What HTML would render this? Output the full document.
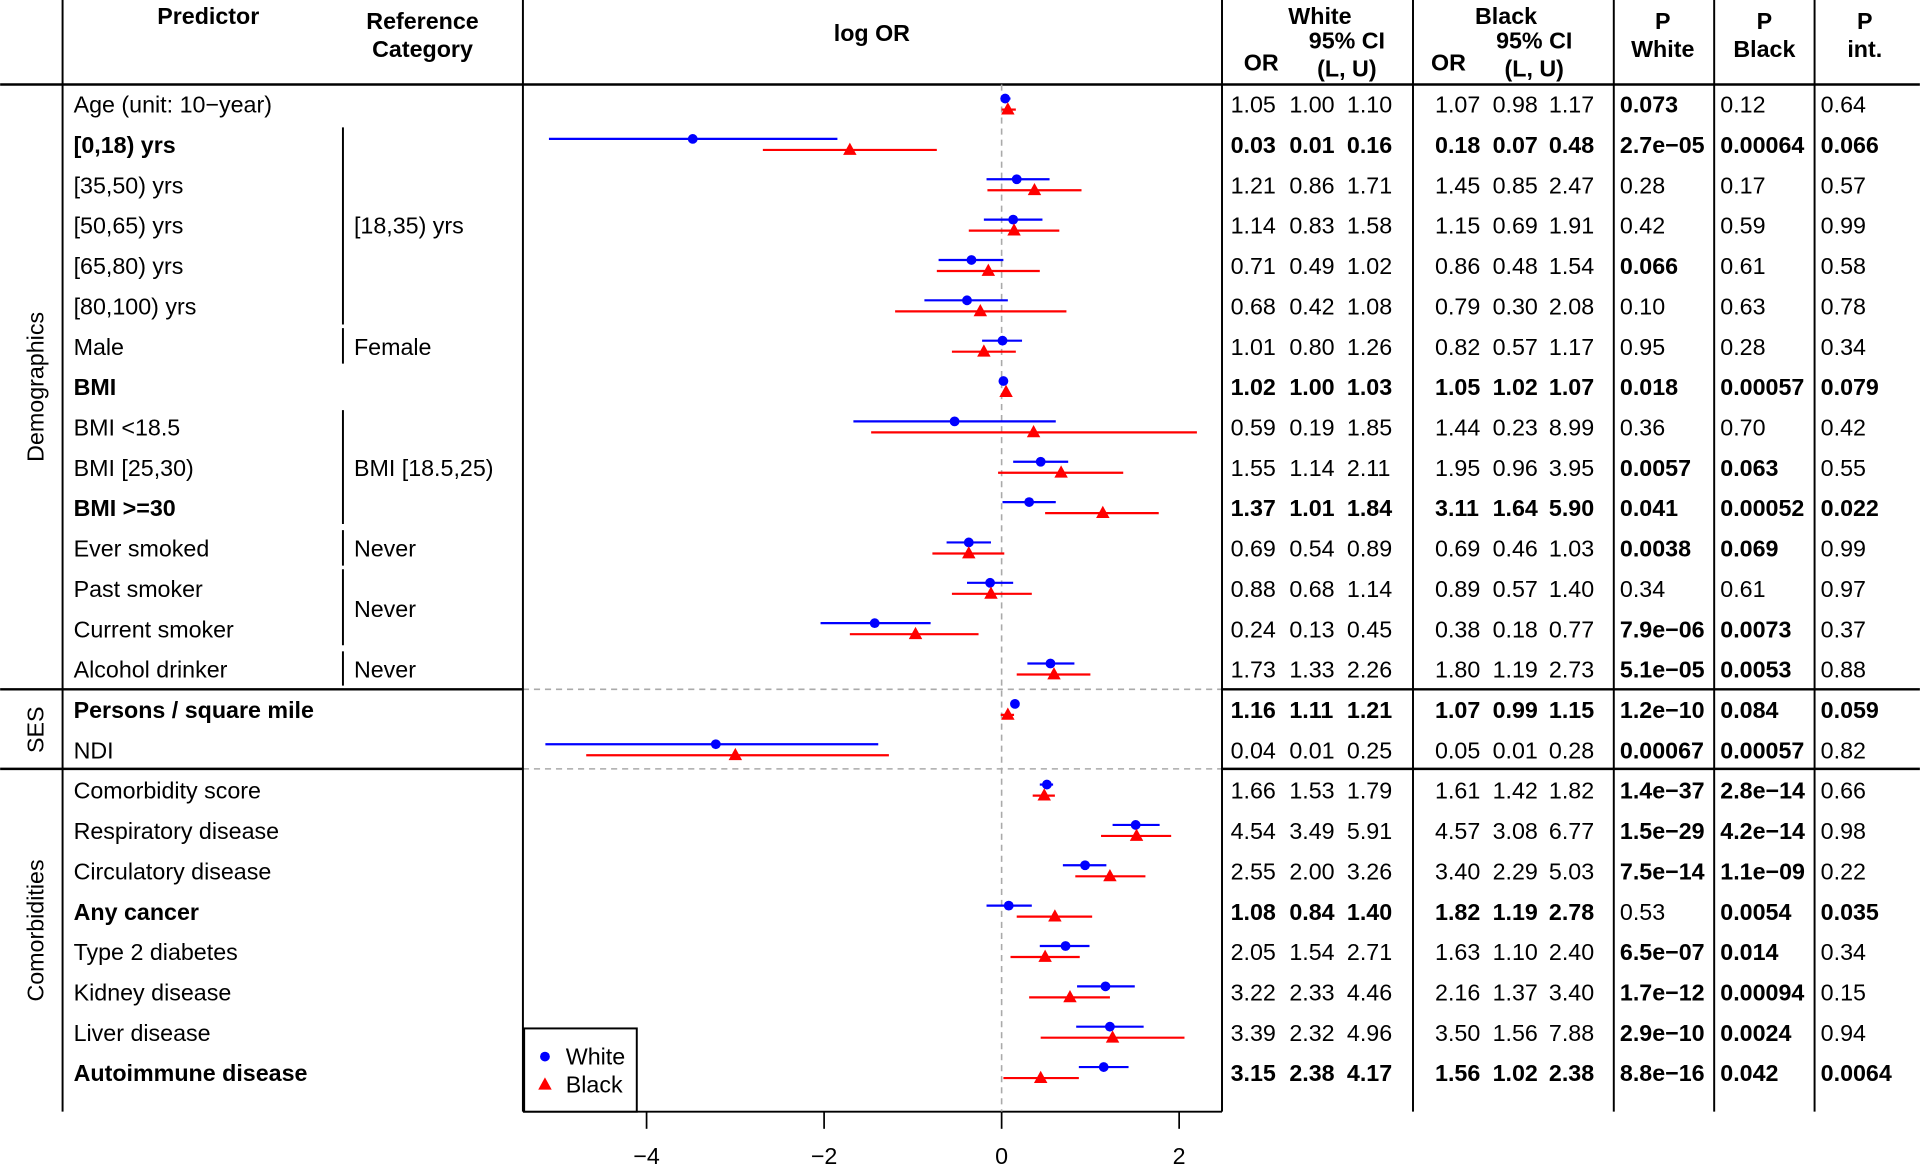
<!DOCTYPE html>
<html><head><meta charset="utf-8"><style>
html,body{margin:0;padding:0;background:#fff;}
svg{display:block;font-family:"Liberation Sans",Arial,sans-serif;}
</style></head><body>
<svg id="chart" width="1920" height="1168" viewBox="0 0 1568 954" xmlns="http://www.w3.org/2000/svg"></svg>
<script>
const labels=["Age (unit: 10\u2212year)","[0,18) yrs","[35,50) yrs","[50,65) yrs","[65,80) yrs","[80,100) yrs","Male","BMI","BMI <18.5","BMI [25,30)","BMI >=30","Ever smoked","Past smoker","Current smoker","Alcohol drinker","Persons / square mile","NDI","Comorbidity score","Respiratory disease","Circulatory disease","Any cancer","Type 2 diabetes","Kidney disease","Liver disease","Autoimmune disease"];
const boldRows=[1,7,10,15,20,24];
const whiteEst=[0.04,-3.48,0.17,0.13,-0.34,-0.39,0.01,0.02,-0.53,0.44,0.31,-0.37,-0.13,-1.43,0.55,0.15,-3.22,0.51,1.51,0.94,0.08,0.72,1.17,1.22,1.15];
const whiteLo=[0.0,-5.1,-0.17,-0.2,-0.71,-0.87,-0.22,0.0,-1.67,0.13,0.01,-0.62,-0.39,-2.04,0.29,0.10,-5.14,0.43,1.25,0.69,-0.17,0.43,0.85,0.84,0.87];
const whiteHi=[0.1,-1.85,0.54,0.46,0.02,0.07,0.23,0.03,0.61,0.75,0.61,-0.12,0.13,-0.8,0.82,0.19,-1.39,0.58,1.78,1.18,0.34,0.99,1.5,1.6,1.43];
const blackEst=[0.07,-1.71,0.37,0.14,-0.15,-0.24,-0.2,0.05,0.36,0.67,1.14,-0.37,-0.12,-0.97,0.59,0.07,-3.0,0.48,1.52,1.22,0.6,0.49,0.77,1.25,0.44];
const blackLo=[0.0,-2.69,-0.16,-0.37,-0.73,-1.2,-0.56,0.02,-1.47,-0.04,0.49,-0.78,-0.56,-1.71,0.17,-0.01,-4.68,0.35,1.12,0.83,0.17,0.1,0.31,0.44,0.02];
const blackHi=[0.16,-0.73,0.9,0.65,0.43,0.73,0.16,0.07,2.2,1.37,1.77,0.03,0.34,-0.26,1.0,0.14,-1.27,0.6,1.91,1.62,1.02,0.88,1.22,2.06,0.87];
const whiteOR=[["1.05","1.00","1.10"],["0.03","0.01","0.16"],["1.21","0.86","1.71"],["1.14","0.83","1.58"],["0.71","0.49","1.02"],["0.68","0.42","1.08"],["1.01","0.80","1.26"],["1.02","1.00","1.03"],["0.59","0.19","1.85"],["1.55","1.14","2.11"],["1.37","1.01","1.84"],["0.69","0.54","0.89"],["0.88","0.68","1.14"],["0.24","0.13","0.45"],["1.73","1.33","2.26"],["1.16","1.11","1.21"],["0.04","0.01","0.25"],["1.66","1.53","1.79"],["4.54","3.49","5.91"],["2.55","2.00","3.26"],["1.08","0.84","1.40"],["2.05","1.54","2.71"],["3.22","2.33","4.46"],["3.39","2.32","4.96"],["3.15","2.38","4.17"]];
const blackOR=[["1.07","0.98","1.17"],["0.18","0.07","0.48"],["1.45","0.85","2.47"],["1.15","0.69","1.91"],["0.86","0.48","1.54"],["0.79","0.30","2.08"],["0.82","0.57","1.17"],["1.05","1.02","1.07"],["1.44","0.23","8.99"],["1.95","0.96","3.95"],["3.11","1.64","5.90"],["0.69","0.46","1.03"],["0.89","0.57","1.40"],["0.38","0.18","0.77"],["1.80","1.19","2.73"],["1.07","0.99","1.15"],["0.05","0.01","0.28"],["1.61","1.42","1.82"],["4.57","3.08","6.77"],["3.40","2.29","5.03"],["1.82","1.19","2.78"],["1.63","1.10","2.40"],["2.16","1.37","3.40"],["3.50","1.56","7.88"],["1.56","1.02","2.38"]];
const pWhite=["0.073","2.7e\u221205","0.28","0.42","0.066","0.10","0.95","0.018","0.36","0.0057","0.041","0.0038","0.34","7.9e\u221206","5.1e\u221205","1.2e\u221210","0.00067","1.4e\u221237","1.5e\u221229","7.5e\u221214","0.53","6.5e\u221207","1.7e\u221212","2.9e\u221210","8.8e\u221216"];
const pBlack=["0.12","0.00064","0.17","0.59","0.61","0.63","0.28","0.00057","0.70","0.063","0.00052","0.069","0.61","0.0073","0.0053","0.084","0.00057","2.8e\u221214","4.2e\u221214","1.1e\u221209","0.0054","0.014","0.00094","0.0024","0.042"];
const pInt=["0.64","0.066","0.57","0.99","0.58","0.78","0.34","0.079","0.42","0.55","0.022","0.99","0.97","0.37","0.88","0.059","0.82","0.66","0.98","0.22","0.035","0.34","0.15","0.94","0.0064"];
const pWhiteBold=[1,1,0,0,1,0,0,1,0,1,1,1,0,1,1,1,1,1,1,1,0,1,1,1,1];
const pBlackBold=[0,1,0,0,0,0,0,1,0,1,1,1,0,1,1,1,1,1,1,1,1,1,1,1,1];
const pIntBold=[0,1,0,0,0,0,0,1,0,0,1,0,0,0,0,1,0,0,0,0,1,0,0,0,1];
const xTicks=[-4,-2,0,2];

const NS="http://www.w3.org/2000/svg";
const svg=document.getElementById('chart');
const FS=19;
const X=v=>818+v*72.5;
const Y=i=>85.5+i*32.96;
function el(tag,attrs,parent){const e=document.createElementNS(NS,tag);for(const k in attrs)e.setAttribute(k,attrs[k]);(parent||svg).appendChild(e);return e;}
function txt(s,x,y,opt){opt=opt||{};const t=el('text',{x:x,y:y,'font-size':opt.fs||FS,'text-anchor':opt.anchor||'start','dominant-baseline':'central','font-weight':opt.bold?'bold':'normal',fill:'#000'});if(opt.rot)t.setAttribute('transform',`rotate(-90 ${x} ${y})`);t.textContent=s;return t;}
function line(x1,y1,x2,y2,o){o=o||{};return el('line',{x1,y1,x2,y2,stroke:o.c||'#000','stroke-width':o.w||1.6,'stroke-dasharray':o.d||'none'});}

let e;
e=line(0,69,1568,69,{w:2});
[[0,427],[998,1568]].forEach(r=>{line(r[0],563,r[1],563,{w:2});line(r[0],628,r[1],628,{w:2});});
line(427,563,998,563,{c:'#aaa',d:'5,4',w:1.3});line(427,628,998,628,{c:'#aaa',d:'5,4',w:1.3});
[51,427,998,1154,1318,1400,1482].forEach(x=>{e=line(x,0,x,908,{w:1.6});});
e=line(427,908,998,908,{w:1.6});
line(X(0),69,X(0),908,{c:'#aaa',d:'5,4',w:1.3});
xTicks.forEach(v=>{line(X(v),908,X(v),922,{w:1.4});const t=txt(v<0?'\u2212'+Math.abs(v):String(v),X(v),944,{anchor:'middle'});});

txt('Predictor',170,13,{bold:1,anchor:'middle'});
txt('Reference',345,17,{bold:1,anchor:'middle'});txt('Category',345,40,{bold:1,anchor:'middle'});
e=txt('log OR',712,27,{bold:1,anchor:'middle'});
txt('White',1078,13,{bold:1,anchor:'middle'});txt('95% CI',1100,33,{bold:1,anchor:'middle'});txt('(L, U)',1100,56,{bold:1,anchor:'middle'});txt('OR',1030,51,{bold:1,anchor:'middle'});
txt('Black',1230,13,{bold:1,anchor:'middle'});txt('95% CI',1253,33,{bold:1,anchor:'middle'});txt('(L, U)',1253,56,{bold:1,anchor:'middle'});txt('OR',1183,51,{bold:1,anchor:'middle'});
[['White',1358],['Black',1441],['int.',1523]].forEach(h=>{txt('P',h[1],17,{bold:1,anchor:'middle'});txt(h[0],h[1],40,{bold:1,anchor:'middle'});});

e=txt('Demographics',29,316,{rot:1,anchor:'middle'});
e=txt('SES',29,596,{rot:1,anchor:'middle'});
e=txt('Comorbidities',29,760,{rot:1,anchor:'middle'});

[[104,265],[268,297],[335,428],[433,462],[465,527],[532,560]].forEach(r=>line(280,r[0],280,r[1],{w:1.6}));
[['[18,35) yrs',Y(3)],['Female',Y(6)],['BMI [18.5,25)',Y(9)],['Never',Y(11)],['Never',(Y(12)+Y(13))/2],['Never',Y(14)]].forEach(r=>{const t=txt(r[0],289,r[1]);});

labels.forEach((lab,i)=>{
  const y=Y(i), b=boldRows.includes(i);
  let t=txt(lab,60,y,{bold:b});
  [1005,1053,1100].forEach((x,k)=>{t=txt(whiteOR[i][k],x,y,{bold:b});});
  [1172,1219,1265].forEach((x,k)=>{t=txt(blackOR[i][k],x,y,{bold:b});});
  t=txt(pWhite[i],1323,y,{bold:pWhiteBold[i]});
  t=txt(pBlack[i],1405,y,{bold:pBlackBold[i]});
  t=txt(pInt[i],1487,y,{bold:pIntBold[i]});
  const yw=y-5, yb=y+4;
  let l=line(X(whiteLo[i]),yw,X(whiteHi[i]),yw,{c:'#0000ff',w:1.8});
  
  
  let c=el('circle',{cx:X(whiteEst[i]),cy:yw,r:4,fill:'#0000ff'});
  
  
  l=line(X(blackLo[i]),yb,X(blackHi[i]),yb,{c:'#ff0000',w:1.8});
  
  
  const bx=X(blackEst[i]);
  const p=el('polygon',{points:`${bx},${yb-6} ${bx-5.5},${yb+4} ${bx+5.5},${yb+4}`,fill:'#ff0000'});
  
  
});

const lg=el('g',{});


el('rect',{x:428,y:840,width:92,height:68,fill:'#fff',stroke:'#000','stroke-width':1.6},lg);
el('circle',{cx:445,cy:863,r:4,fill:'#0000ff'},lg);
el('polygon',{points:'445,880 439.5,890 450.5,890',fill:'#ff0000'},lg);
let lt=txt('White',462,863);lg.appendChild(lt);
lt=txt('Black',462,886);lg.appendChild(lt);
</script>
</body></html>
